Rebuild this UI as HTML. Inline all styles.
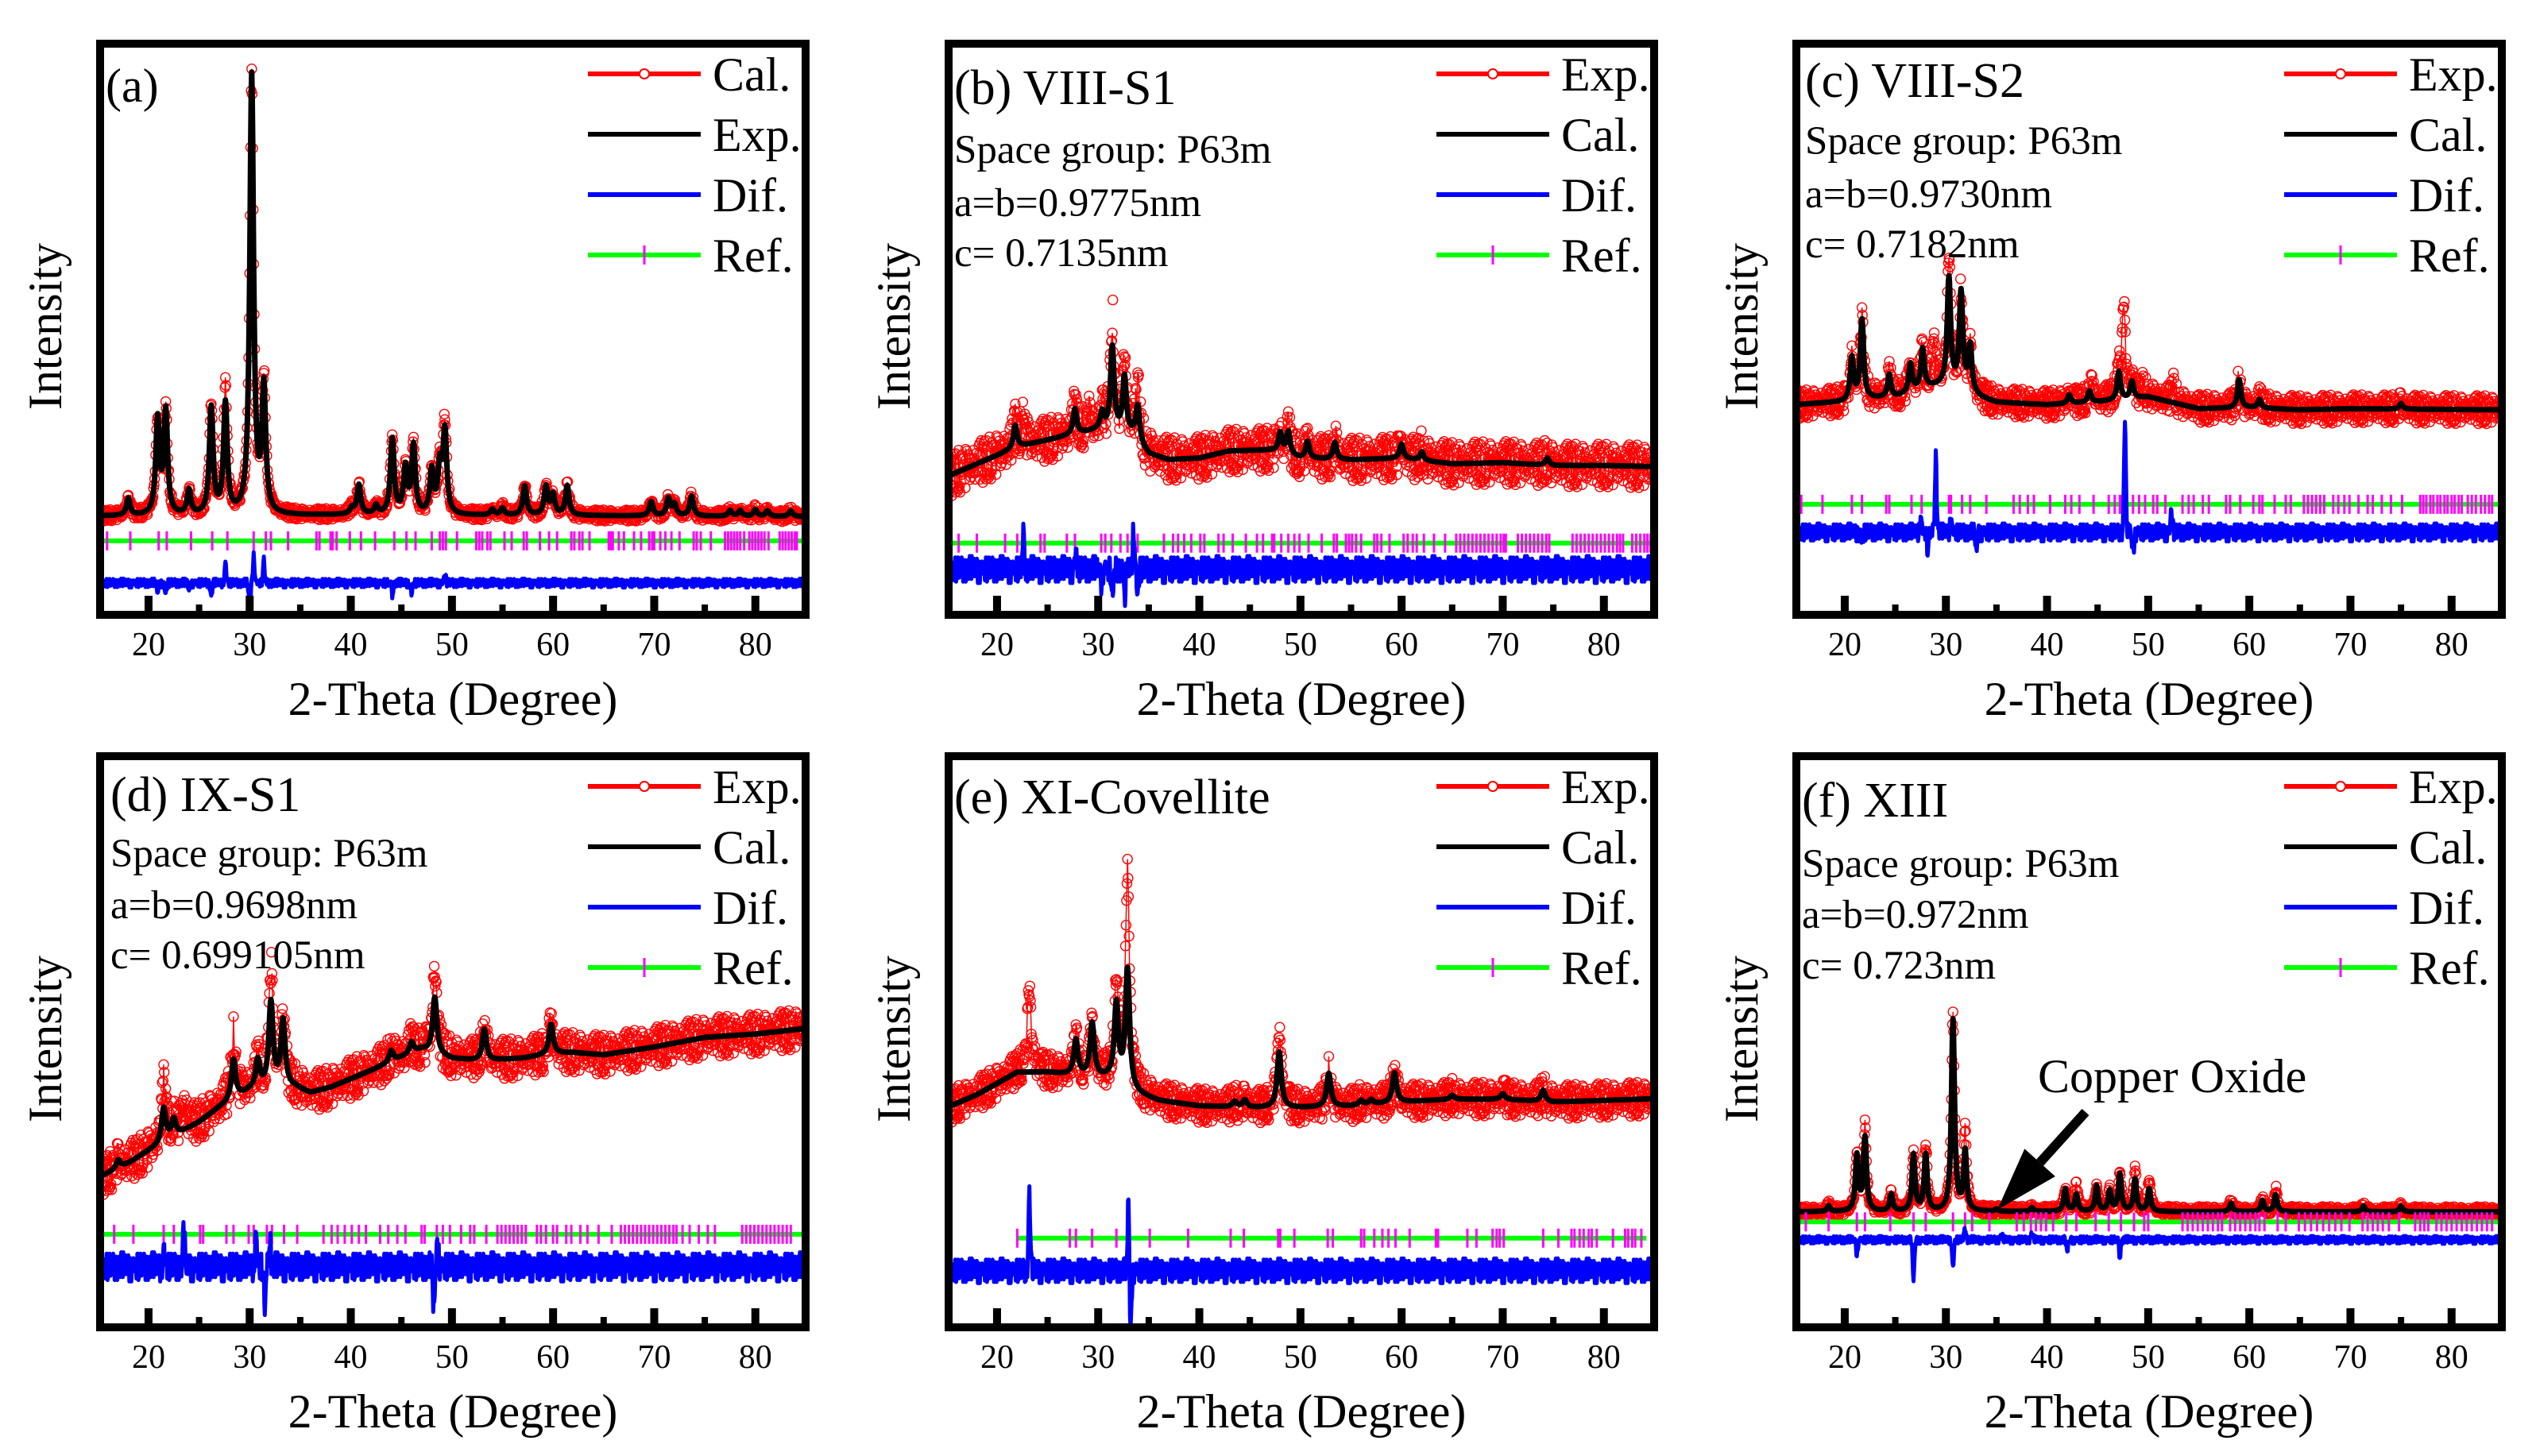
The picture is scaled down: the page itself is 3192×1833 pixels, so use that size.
<!DOCTYPE html>
<html><head><meta charset="utf-8"><style>
html,body{margin:0;padding:0;background:#fff;}
svg{display:block;font-family:"Liberation Serif",serif;}
</style></head><body>
<svg id="fig" xmlns="http://www.w3.org/2000/svg" width="3192" height="1833" viewBox="0 0 3192 1833"></svg>
<script>
// ---------- shared data ----------
const xTicks=[20,30,40,50,60,70,80];
const xMinor=[25,35,45,55,65,75,85];
const noise=[0.3,-0.8,0.6,-0.2,0.9,-0.5,0.1,-1.0,0.7,-0.3,0.4,-0.9,0.8,0.0,-0.6,0.5,-0.1,1.0,-0.7,0.2,-0.4,0.6,-0.9,0.3,0.8,-0.2,-0.5,0.9,-0.8,0.1,0.5,-0.6,0.2,-0.3,0.7,-1.0,0.4,0.0,-0.7,0.9,-0.4,0.6,-0.1,0.3,-0.8,1.0,-0.2,0.5,-0.9,0.1,0.7,-0.5,0.2,-0.6,0.8,-0.3,0.4,-0.7,0.9,-0.1,0.0];

// ---------- panel (a) ----------
const aBgX=[15,20,30,40,50,60,70,85];
const aBgV=[16.7,16.7,16.7,16.9,16.8,16.8,16.7,16.6];
const aPkPos=[18.0,20.9,21.7,24.0,26.2,27.6,30.2,31.4,40.1,40.8,42.5,44.1,45.4,46.2,48.0,48.8,49.3,54.0,55.0,57.2,59.3,60.0,61.4,69.7,71.4,72.0,73.7,77.5,78.5,80.0,81.2,83.5];
const aPkH=[3,16.8,18.2,4.3,18.9,19.5,78,22,1,5.2,1.5,13.3,8,12,7.6,8,14.5,1,1.2,5.2,5,3.5,5.2,2.5,3,2,3.5,1,1,1.2,1,1];
const aExPos=[27.6,31.4,49.3];
const aExH=[3,1.5,1.5];
const aRef=[15.9,18.2,21.0,21.8,24.2,26.3,27.8,30.4,31.6,32.1,33.8,36.6,36.9,38.0,38.2,38.6,39.9,41.0,42.4,44.3,45.5,46.4,48.0,48.8,49.1,49.4,50.5,52.4,52.7,53.0,53.5,53.8,55.2,55.9,57.1,57.4,58.7,59.6,60.4,61.8,62.1,62.6,62.9,63.6,65.5,65.7,65.9,66.5,67.0,68.0,68.7,69.5,69.8,70.0,70.6,71.1,71.7,72.5,73.9,74.2,74.6,75.6,77.0,77.3,77.6,77.9,78.2,78.5,78.9,79.4,79.7,80.0,80.3,80.6,80.9,81.3,82.4,82.7,83.0,83.3,83.6,83.9,84.1];
const aDifPos=[20.9,21.7,24.0,26.2,27.6,30.0,30.4,31.4,44.1,46.0,49.3];
const aDifA=[-1.5,-2,-1,-2.5,3.5,-5,5,4,-2,-2,1.5];

// ---------- panel (b) ----------
const bBgX=[15,22,27,30,33.5,35,37,40,43,47,50,55,60,65,70,75,80,85];
const bBgV=[23.7,29,31,32,31,27.7,26.7,27,28.3,28.4,27,26.7,27,26,26.2,25.7,25.7,25.5];
const bPkPos=[21.8,27.7,30.4,31.4,32.6,33.9,48.0,48.8,50.7,53.4,60.0,62.0,74.4];
const bPkH=[4,4.5,3,15,10,6,3.5,4,3,3,2.5,1.5,1.3];
const bExPos=[22.6,31.4,32.6,34.0,29.0];
const bExH=[5,5,4,3,3];
const bRef=[16.2,18.0,20.8,22.0,24.3,24.7,26.9,27.7,30.3,30.7,31.3,32.2,32.9,33.9,36.5,37.4,37.9,38.5,39.2,40.1,40.5,41.9,42.4,43.3,44.6,45.7,46.3,47.2,47.4,48.1,48.8,49.4,49.9,50.8,52.1,53.3,53.6,54.5,54.8,55.1,55.5,56.0,57.3,57.6,58.0,58.8,60.2,60.6,61.1,61.5,62.2,63.2,64.3,65.4,65.8,66.2,66.6,67.0,67.4,67.8,68.2,68.6,69.0,69.4,69.8,70.1,70.3,71.5,71.9,72.3,72.7,73.1,73.5,73.9,74.3,74.6,76.9,77.3,77.7,78.1,78.5,78.9,79.3,79.7,80.1,80.5,80.9,81.3,81.6,81.9,82.8,83.2,83.6,84.0,84.3,84.6];
const bDifPos=[22.6,27.8,30.3,31.4,32.6,33.5,33.9];
const bDifA=[6,3,-2,-5,-6,8,-5];

// ---------- panel (c) ----------
const cBgX=[15,20,22,25,28,30,32,33.5,35,40,45,50,55,60,65,70,85];
const cBgV=[36.5,37,37.5,37.8,39.5,40,39,37.7,36.9,36.5,37,37.9,35.8,36,35.6,35.8,35.6];
const cPkPos=[20.7,21.7,24.4,26.5,27.7,30.3,31.5,32.4,42.2,44.2,47.1,48.4,59.0,61.0,75.0];
const cPkH=[7.5,14,4,5,7,19,17,8,1.5,2,5,3,5,1.5,1];
const cExPos=[47.6,30.3,28.8,52.5,49.5,44.5];
const cExH=[16,4,8,3,2,2];
const cRef=[15.7,17.8,20.7,21.7,24.1,24.4,26.6,27.6,30.3,30.5,31.6,32.4,34.0,36.7,37.3,38.1,38.7,40.3,41.8,42.4,43.2,44.6,46.1,46.7,47.2,47.4,48.5,49.1,49.7,50.5,50.9,51.7,53.4,54.0,54.5,55.4,56.0,57.7,58.1,59.1,60.4,61.0,61.3,62.5,63.6,64.1,65.4,65.8,66.2,66.6,67.0,67.4,68.3,68.8,69.4,69.9,70.8,71.7,72.2,73.1,74.0,75.1,76.9,77.2,77.5,77.9,78.2,78.6,78.9,79.3,79.6,80.0,80.3,80.7,81.0,81.6,82.0,82.4,82.9,83.3,83.7,84.0,85.0];
const cDifPos=[29.0,47.7,52.3,27.5,28.2,33.0,30.5,48.5,21.7];
const cDifA=[13.5,20,4,3,-3,-3,3,-4,-2];

// ---------- panel (d) ----------
const dBgX=[15,18,20,22,25,27,28.5,30,33,34.5,36,38,42,45,47,50,53,57,60,62,65,70,75,80,85];
const dBgV=[25.7,28.3,30.5,32.6,35.6,38.2,39.8,41.2,42,41.8,40.8,41.8,44.8,47.1,48.5,46.9,46.5,47,47.8,48,47.6,49,50.7,51.3,52.3];
const dPkPos=[17.0,21.5,22.5,28.4,30.8,32.1,33.3,48.3,53.2,59.8,44.0,46.0];
const dPkH=[1.5,6,3,7,5,15,11.5,10,5.6,5.3,2,2];
const dExPos=[21.5,23.5,32.1,48.3,28.4];
const dExH=[4,5,6,5,4];
const dRef=[16.6,18.5,21.5,22.5,25.1,25.4,27.7,28.4,29.9,30.4,31.7,32.2,33.4,34.7,37.3,38.1,38.7,39.4,40.1,40.8,41.5,42.9,43.7,44.6,45.4,47.0,47.3,48.5,49.1,49.8,50.9,51.8,52.2,53.4,54.5,54.9,55.3,55.7,56.1,56.5,56.9,57.3,58.4,58.8,59.3,60.0,60.4,61.3,61.8,62.7,63.4,64.5,65.8,66.7,67.1,67.5,67.9,68.3,68.7,69.1,69.5,69.9,70.3,70.7,71.1,71.5,71.9,72.2,72.8,73.5,74.4,75.3,76.0,78.7,79.1,79.5,79.9,80.3,80.7,81.1,81.5,81.9,82.3,82.7,83.1,83.5,85.0];
const dDifPos=[23.5,21.5,30.6,31.5,32.0,48.2,48.6];
const dDifA=[7,3,6,-7,5,-8,5];

// ---------- panel (e) ----------
const eBgX=[15,18,20,22,25,28,31,33.5,36,40,45,50,55,60,65,70,75,80,85];
const eBgV=[38.2,40.5,42.5,44.5,44.5,43.8,43.3,40.8,39.4,38.5,38.2,38.2,38.5,39.2,39.7,39.7,39.2,39.5,39.8];
const ePkPos=[27.8,29.4,31.8,32.9,47.9,52.8,59.3,74.0,43.5,44.5,56.0,57.0,65.0,70.0];
const ePkH=[6.3,9.5,13.8,21,9.9,5.9,5.3,2,1,1.3,0.8,0.8,0.7,1];
const eExPos=[23.2,32.9,47.9,31.8];
const eExH=[14,17,4,3];
const eRef=[22.0,27.2,27.8,29.4,31.8,32.9,35.1,38.9,43.1,44.4,47.8,48.0,49.4,52.7,53.2,56.0,56.3,57.3,58.1,58.7,59.4,60.8,63.4,63.6,66.5,67.4,69.0,69.4,69.7,70.1,74.0,75.5,76.8,77.1,77.6,78.0,78.5,78.8,79.3,80.9,82.1,82.4,82.8,83.1,83.7];
const eDifPos=[23.2,33.0,33.2];
const eDifA=[13.5,13,-12];

// ---------- panel (f) ----------
const fBgX=[15,85];
const fBgV=[19.7,19.7];
const fPkPos=[18.4,21.2,22.0,24.6,26.8,28.0,30.7,31.9,41.8,42.9,44.9,46.2,47.2,48.7,50.1,58.2,61.3,62.6,71.3,75.0,38.5,35.0];
const fPkH=[1,9.8,13,3,10,10,34,10.5,4,3,4.5,3.6,6.6,5.7,4,1.5,2,3,1,1,0.7,0.4];
const fExPos=[22.0,28.0,30.7,31.9,42.9,48.7,50.1,62.6];
const fExH=[2,2,0.5,4,1.5,1.5,1.5,1];
const fRef=[16.15,18.4,21.2,22.0,24.5,26.8,28.0,30.7,31.9,32.6,34.3,37.0,37.7,38.4,38.9,39.4,39.9,40.6,41.9,42.9,44.8,46.1,47.3,48.6,49.6,50.0,53.4,53.9,54.4,54.9,55.4,55.9,56.4,56.9,57.3,58.1,58.6,59.1,59.6,60.1,60.6,61.0,61.5,62.8,63.6,64.9,65.5,66.1,66.7,67.3,67.9,68.5,69.1,69.9,71.2,71.7,72.2,72.7,73.2,73.8,74.8,76.4,76.9,77.3,77.7,78.5,79.0,79.5,80.0,80.5,81.0,81.5,82.0,82.5,83.0,83.5,84.0,84.7];
const fDifPos=[21.2,26.8,30.7,31.9,42.0,47.2,38.5,35.5];
const fDifA=[-2.5,-7,-5,2,-2,-3,1,0.8];

// ---------- layout ----------
const NS="http://www.w3.org/2000/svg";
const svg=document.getElementById('fig');
const PW=898, PH=729;
const X=d=>2.3+(d-15)*12.73;
const Y=v=>718-v*7.08;
function el(tag,attrs,parent){const e=document.createElementNS(NS,tag);for(const k in attrs)e.setAttribute(k,attrs[k]);parent.appendChild(e);return e;}
function interp(xs,vs,d){if(d<=xs[0])return vs[0];for(let i=1;i<xs.length;i++){if(d<=xs[i]){const t=(d-xs[i-1])/(xs[i]-xs[i-1]);return vs[i-1]+t*(vs[i]-vs[i-1]);}}return vs[vs.length-1];}
function lor(d,pos,h,w){let s=0;for(let i=0;i<pos.length;i++){const u=(d-pos[i])/w;s+=h[i]/(1+u*u);}return s;}
function gau(d,pos,a,w){let s=0;for(let i=0;i<pos.length;i++){const u=(d-pos[i])/w;s+=a[i]*Math.exp(-u*u);}return s;}

const panels=[
 {id:'a',ox:121,oy:50,bgX:aBgX,bgV:aBgV,pk:aPkPos,ph:aPkH,ex:aExPos,eh:aExH,ref:aRef,refV:12.3,refStart:15,dp:aDifPos,da:aDifA,dBase:4.8,w:0.22,nExp:1.0,nDif:0.8,
  title:'(a)',lines:[],ty:[78],tx:12,leg:['Cal.','Exp.','Dif.','Ref.']},
 {id:'b',ox:1189,oy:50,bgX:bBgX,bgV:bBgV,pk:bPkPos,ph:bPkH,ex:bExPos,eh:bExH,ref:bRef,refV:11.9,refStart:15,dp:bDifPos,da:bDifA,dBase:7.2,w:0.22,nExp:3.8,nDif:2.4,
  title:'(b) VIII-S1',lines:['Space group: P63m','a=b=0.9775nm','c= 0.7135nm'],ty:[81,155,222,285],tx:12,leg:['Exp.','Cal.','Dif.','Ref.']},
 {id:'c',ox:2256,oy:50,bgX:cBgX,bgV:cBgV,pk:cPkPos,ph:cPkH,ex:cExPos,eh:cExH,ref:cRef,refV:18.8,refStart:15,dp:cDifPos,da:cDifA,dBase:13.8,w:0.2,nExp:2.5,nDif:1.6,
  title:'(c) VIII-S2',lines:['Space group: P63m','a=b=0.9730nm','c= 0.7182nm'],ty:[72,144,211,274],tx:16,leg:['Exp.','Cal.','Dif.','Ref.']},
 {id:'d',ox:121,oy:947,bgX:dBgX,bgV:dBgV,pk:dPkPos,ph:dPkH,ex:dExPos,eh:dExH,ref:dRef,refV:15.7,refStart:15,dp:dDifPos,da:dDifA,dBase:9.9,w:0.25,nExp:3.5,nDif:2.6,
  title:'(d) IX-S1',lines:['Space group: P63m','a=b=0.9698nm','c= 0.699105nm'],ty:[74,144,209,272],tx:18,leg:['Exp.','Cal.','Dif.','Ref.']},
 {id:'e',ox:1189,oy:947,bgX:eBgX,bgV:eBgV,pk:ePkPos,ph:ePkH,ex:eExPos,eh:eExH,ref:eRef,refV:15,refStart:22,dp:eDifPos,da:eDifA,dBase:9.2,w:0.25,nExp:3,nDif:2.2,
  title:'(e) XI-Covellite',lines:[],ty:[77],tx:12,leg:['Exp.','Cal.','Dif.','Ref.']},
 {id:'f',ox:2256,oy:947,bgX:fBgX,bgV:fBgV,pk:fPkPos,ph:fPkH,ex:fExPos,eh:fExH,ref:fRef,refV:17.9,refStart:15,dp:fDifPos,da:fDifA,dBase:14.7,w:0.18,nExp:0.9,nDif:0.7,
  title:'(f) XIII',lines:['Space group: P63m','a=b=0.972nm','c= 0.723nm'],ty:[81,157,221,285],tx:12,leg:['Exp.','Cal.','Dif.','Ref.']}
];

panels.forEach(P=>{
  const g=el('g',{transform:`translate(${P.ox},${P.oy})`},svg);
  
  
  const cid='clip-'+P.id;
  const cp=el('clipPath',{id:cid},g);
  el('rect',{x:8,y:8,width:PW-16,height:PH-16},cp);
  const plot=el('g',{'clip-path':`url(#${cid})`},g);
  
  
  const calc=d=>interp(P.bgX,P.bgV,d)+lor(d,P.pk,P.ph,P.w);
  // exp circles
  let cd='',ld='';
  let k=0;
  for(let d=15;d<=85.001;d+=0.05,k++){
    const v=calc(d)+lor(d,P.ex,P.eh,P.w)+noise[(k*17+3)%noise.length]*P.nExp;
    const x=X(d),y=Y(v),r=6;
    cd+=`M${(x-r).toFixed(1)},${y.toFixed(1)}a${r},${r} 0 1,0 ${2*r},0a${r},${r} 0 1,0 ${-2*r},0`;
    if(k%2===0) ld+=(k?'L':'M')+x.toFixed(1)+','+y.toFixed(1);
  }
  const expLine=el('path',{d:ld,fill:'none',stroke:'#ff0000','stroke-width':1.5},plot);
  
  
  const expPts=el('path',{d:cd,fill:'none',stroke:'#ff0000','stroke-width':1.4},plot);
  
  
  // calc line
  let cl='';k=0;
  for(let d=15;d<=85.001;d+=0.05,k++){cl+=(k?'L':'M')+X(d).toFixed(1)+','+Y(calc(d)).toFixed(1);}
  const calcLine=el('path',{d:cl,fill:'none',stroke:'#000','stroke-width':7,'stroke-linejoin':'round'},plot);
  
  
  // ref line & ticks
  const ry=Y(P.refV);
  const refLine=el('line',{x1:X(P.refStart),x2:X(P.id==='e'?84.2:85),y1:ry,y2:ry,stroke:'#00ff00','stroke-width':6},plot);
  
  
  let td='';
  P.ref.forEach(d=>{td+=`M${X(d).toFixed(1)},${ry-12}V${ry+12}`;});
  const refT=el('path',{d:td,stroke:'#ff00ff','stroke-width':3,fill:'none'},plot);
  
  
  // diff line
  let dl='';k=0;
  for(let d=15;d<=85.001;d+=0.05,k++){
    const v=P.dBase+noise[(k*7)%noise.length]*P.nDif+gau(d,P.dp,P.da,0.12);
    dl+=(k?'L':'M')+X(d).toFixed(1)+','+Y(v).toFixed(1);
  }
  const difLine=el('path',{d:dl,fill:'none',stroke:'#0000ff','stroke-width':5,'stroke-linejoin':'round'},plot);
  
  
  // frame
  const fr=el('rect',{x:5,y:5,width:PW-10,height:PH-10,fill:'none',stroke:'#000','stroke-width':10},g);
  
  
  // ticks
  xTicks.forEach(t=>{
    const tk=el('rect',{x:X(t)-5,y:PH-10-19,width:10,height:19,fill:'#000'},g);
    
    
    const lb=el('text',{x:X(t),y:775,'font-size':42,'text-anchor':'middle',fill:'#000'},g);
    lb.textContent=t;
    
    
  });
  xMinor.forEach(t=>{
    if(X(t)>PW-12)return;
    const tk=el('rect',{x:X(t)-4,y:PH-10-8,width:8,height:8,fill:'#000'},g);
    
    
  });
  const xt=el('text',{x:449,y:850,'font-size':60,'text-anchor':'middle',fill:'#000'},g);
  xt.textContent='2-Theta (Degree)';
  
  
  const yt=el('text',{x:0,y:0,'font-size':60,'text-anchor':'middle',fill:'#000',transform:'translate(-44,361) rotate(-90)'},g);
  yt.textContent='Intensity';
  
  
  // title & params
  const tt=el('text',{x:P.tx,y:P.ty[0],'font-size':P.id==='a'?60:62,fill:'#000'},g);
  tt.textContent=P.title;
  
  
  P.lines.forEach((s,i)=>{
    const t=el('text',{x:P.tx,y:P.ty[i+1],'font-size':51,fill:'#000'},g);
    t.textContent=s;
    
    
  });
  // legend
  const legCol=['#ff0000','#000','#0000ff','#00ff00'];
  const rows=[43,119,195,271];
  P.leg.forEach((s,i)=>{
    const lg=el('g',{},g);
    
    
    el('line',{x1:619,x2:761,y1:rows[i],y2:rows[i],stroke:legCol[i],'stroke-width':6},lg);
    if(i===0) el('circle',{cx:690,cy:rows[i],r:6,fill:'#fff',stroke:'#ff0000','stroke-width':2},lg);
    if(i===3) el('line',{x1:690,x2:690,y1:rows[i]-12,y2:rows[i]+12,stroke:'#ff00ff','stroke-width':3},lg);
    const t=el('text',{x:776,y:rows[i]+21,'font-size':60,fill:'#000'},lg);
    t.textContent=s;
  });
  // annotation for f
  if(P.id==='f'){
    const ag=el('g',{},g);
    
    
    const sx=369,sy=453,tx=258,ty=576;
    const L=Math.hypot(tx-sx,ty-sy),ux=(tx-sx)/L,uy=(ty-sy)/L,nx=-uy,ny=ux;
    const bx=tx-ux*80,by=ty-uy*80;
    el('line',{x1:sx,y1:sy,x2:bx,y2:by,stroke:'#000','stroke-width':12},ag);
    el('polygon',{points:`${tx},${ty} ${bx+nx*26},${by+ny*26} ${bx-nx*26},${by-ny*26}`,fill:'#000'},ag);
    const t=el('text',{x:309,y:428,'font-size':60,fill:'#000'},ag);
    t.textContent='Copper Oxide';
  }
});
</script>
</body></html>
